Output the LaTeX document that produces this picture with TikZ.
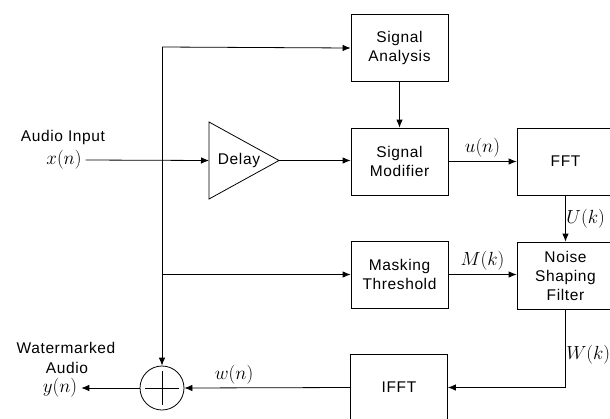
\documentclass[tikz,border=0pt]{standalone}
\usepackage{fontspec}
\newfontfamily\blockfont[LetterSpace=4]{Liberation Sans}
\usetikzlibrary{arrows.meta}
\tikzset{
  blk/.style={draw,line width=0.8pt,minimum width=97pt,minimum height=67pt,
    align=center,font=\blockfont\fontsize{15.5}{19}\selectfont},
  sig/.style={font=\fontsize{17.28}{20}\selectfont,scale=1.1},
  lbl/.style={font=\blockfont\fontsize{15.5}{19}\selectfont},
  arr/.style={-{Latex[length=8pt,width=6.5pt]}},
}
\begin{document}
\begin{tikzpicture}[x=1pt,y=-1pt,line width=0.8pt]
  \useasboundingbox (0,0) rectangle (610,418);
  \clip (0,0) rectangle (610,418);

  % blocks
  \node[blk] (sa)  at (399.5,48)    {Signal\\Analysis};
  \node[blk] (sm)  at (399.5,161.5) {Signal\\Modifier};
  \node[blk] (fft) at (565.5,161.5) {FFT};
  \node[blk] (mt)  at (399.5,274.5) {Masking\\Threshold};
  \node[blk] (nsf) at (565.5,275.5) {Noise\\Shaping\\Filter};
  \node[blk] (ifft) at (399,387.5)  {IFFT};

  % delay triangle
  \coordinate (dlyin) at (209,160.5);
  \coordinate (dlyout) at (279,160.5);
  \draw (209,122) -- (dlyout) -- (209,199) -- cycle;
  \node[lbl] (dly) at (239,160.5) {Delay};

  % adder
  \node[draw,circle,minimum size=44pt,inner sep=0pt] (sum) at (162,388) {};
  \draw (sum.center) +(-17,0) -- +(17,0) (sum.center) +(0,-17) -- +(0,17);

  % input / output labels
  \node[lbl] (ain) at (63,137) {Audio Input};
  \node[sig] (xin) at (64,160) {$x(n)$};
  \node[lbl] (wm)  at (66,348) {Watermarked};
  \node[lbl] (wa)  at (67,368) {Audio};
  \node[sig] (yout) at (60,388) {$y(n)$};

  % signal path
  \coordinate (top) at (162,47);
  \draw[arr] (xin.east) -- (dlyin);
  \draw[arr] (dlyout) -- (sm.west |- dlyout);
  \draw[arr] (top) -- (sa.west);
  \draw[arr] (top) -- (sum.north);
  \draw[arr] (top |- mt) -- (mt.west);
  \draw[arr] (sa) -- (sm);
  \draw[arr] (sm.east) -- node[sig,above] {$u(n)$} (fft.west |- sm.east);
  \draw[arr] (fft) -- node[sig,right,inner sep=0.5pt] {$U(k)$} (nsf);
  \draw[arr] (mt.east) -- node[sig,above] {$M(k)$} (nsf.west |- mt.east);
  \draw[arr] (nsf.south) |- node[sig,right,pos=0.29,inner sep=0.3pt] {$W(k)$} (ifft.east);
  \draw[arr] (ifft.west) -- node[sig,above,pos=0.7] {$w(n)$} (sum.east);
  \draw[arr] (sum.west) -- (yout.east);
\end{tikzpicture}
\end{document}
